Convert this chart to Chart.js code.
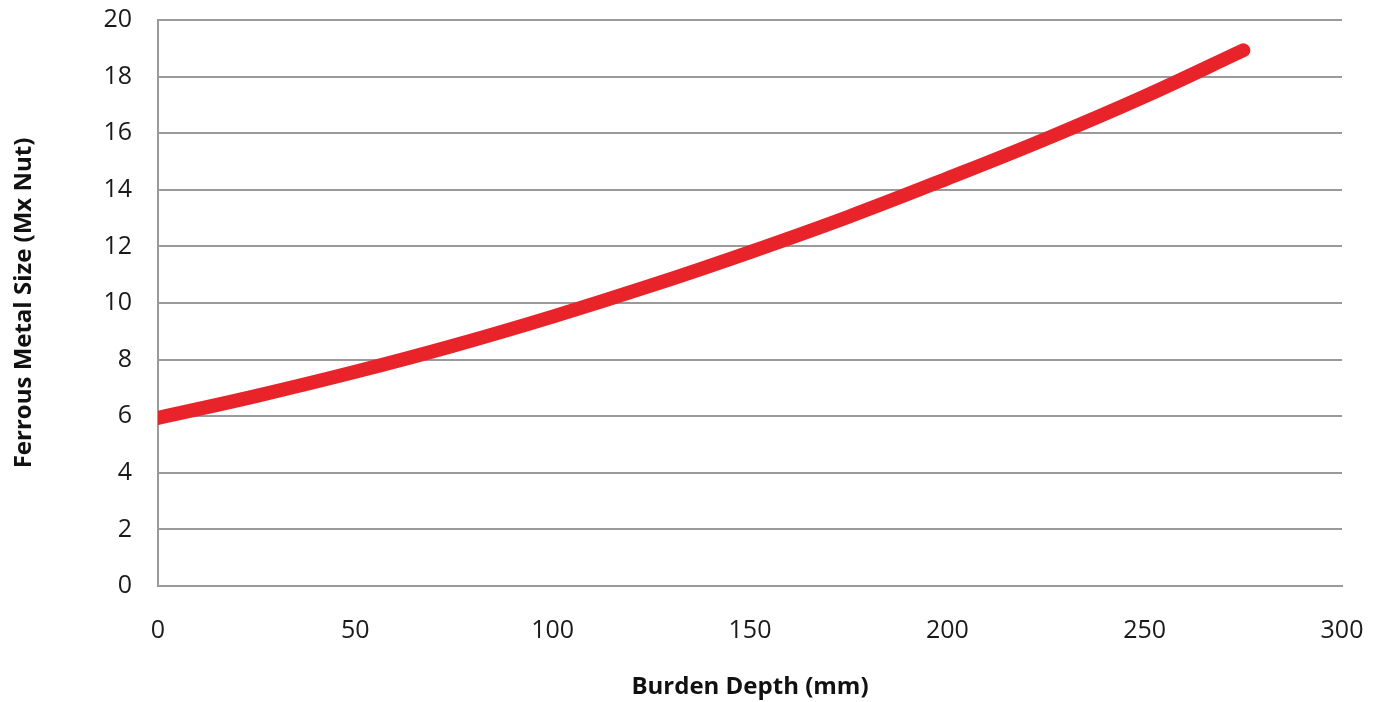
<!DOCTYPE html>
<html>
<head>
<meta charset="utf-8">
<script src="https://cdn.jsdelivr.net/npm/chart.js@4.4.1/dist/chart.umd.min.js"></script>
<style>
  html, body { margin: 0; padding: 0; background: #fff; }
  #wrap { width: 1381px; height: 702px; }
</style>
</head>
<body>
<div id="wrap"><canvas id="chart"></canvas></div>
<script>
// burden depth (mm) vs ferrous metal size
const depths = [0, 25, 50, 75, 100, 125, 150, 175, 200, 225, 250, 275];
const metalSize = [5.94, 6.72, 7.57, 8.5, 9.52, 10.62, 11.8, 13.05, 14.4, 15.8, 17.3, 18.93];
const xTicks = [0, 50, 100, 150, 200, 250, 300];
const yTicks = [0, 2, 4, 6, 8, 10, 12, 14, 16, 18, 20];

const points = depths.map((d, i) => ({ x: d, y: metalSize[i] }));
const font = "'Open Sans', 'Noto Sans', sans-serif";

new Chart(document.getElementById("chart"), {
  type: "line",
  data: {
    datasets: [{
      data: points,
      borderColor: "#e8232a",
      borderWidth: 14,
      borderCapStyle: "round",
      borderJoinStyle: "round",
      pointRadius: 0,
      tension: 0.4,
      fill: false
    }]
  },
  options: {
    responsive: true,
    maintainAspectRatio: false,
    animation: false,
    layout: { padding: { left: 6, right: 0, top: 0, bottom: 0 } },
    plugins: { legend: { display: false }, tooltip: { enabled: false } },
    scales: {
      x: {
        type: "linear",
        min: 0, max: 300,
        afterBuildTicks: s => { s.ticks = xTicks.map(v => ({ value: v })); },
        // tick padding gets added to the side padding, so pin it here
        afterFit: s => { s.height = 116; s.paddingLeft = 0; s.paddingRight = 39; },
        grid: { display: false, drawTicks: false },
        border: { display: true, color: "#9a9a9a", width: 2 },
        ticks: { color: "#1a1a1a", font: { family: font, size: 25 }, padding: 30 },
        title: {
          display: true, text: "Burden Depth (mm)", color: "#111",
          font: { family: font, size: 24, weight: "bold" }, padding: { top: 18, bottom: 0 }
        }
      },
      y: {
        min: 0, max: 20,
        afterBuildTicks: s => { s.ticks = yTicks.map(v => ({ value: v })); },
        afterFit: s => { s.width = 152; s.paddingTop = 20; s.paddingBottom = 0; },
        grid: { color: "#9a9a9a", lineWidth: 2, drawTicks: false },
        border: { display: true, color: "#9a9a9a", width: 2 },
        ticks: { color: "#1a1a1a", font: { family: font, size: 25 }, padding: 26 },
        title: {
          display: true, text: "Ferrous Metal Size (Mx Nut)", color: "#111",
          font: { family: font, size: 24, weight: "bold" }, padding: { bottom: 60 }
        }
      }
    }
  }
});
</script>
</body>
</html>
